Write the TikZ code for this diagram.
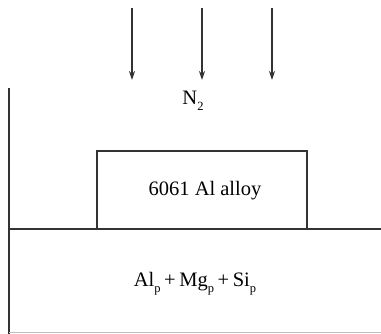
\documentclass[tikz,border=0pt]{standalone}
\usepackage{fontspec}
\setmainfont{Liberation Serif}
\usetikzlibrary{arrows.meta}
\newcommand{\lowsub}[1]{\raisebox{-0.3em}{\fontsize{12.5}{15}\selectfont #1}}
\newcommand{\plusop}{\hspace{3.6pt}+\hspace{3.6pt}}
\tikzset{
  ln/.style={draw=black!80, line width=1.5pt},
  flow/.style={line width=1.2pt, draw=black!80, -{Stealth[length=9pt,width=6pt]}},
  lbl/.style={font=\fontsize{20.5}{24}\selectfont, inner sep=0pt},
}
\begin{document}
\begin{tikzpicture}[x=1pt,y=-1pt]
\useasboundingbox (0,0) rectangle (381,334);
% arrows
\foreach \i/\x in {a/132,b/202,c/272}{
  \coordinate (\i1) at (\x,8);
  \coordinate (\i2) at (\x,80);
  \draw[flow] (\i1) -- (\i2);
}
\node[lbl] (n2) at (193,101) {N\lowsub{2}};
% wall and base
\coordinate (wt) at (9,88);
\coordinate (wb) at (9,334);
\coordinate (bl) at (9,229);
\coordinate (br) at (381,229);
\draw[ln] (wt) -- (wb);
\draw[ln] (bl) -- (br);
\coordinate (fl) at (9,333);
\coordinate (fr) at (381,333);
\draw[line width=1pt, draw=black!25] (fl) -- (fr);
% alloy block
\node[ln, line width=1.7pt, minimum width=210pt, minimum height=78.5pt, inner sep=0pt] (alloy) at (201.7,190) {};
\node[lbl] (t1) at (205,191) {6061 Al alloy};
\node[lbl] (t2) at (195,284) {Al\lowsub{p}\plusop Mg\lowsub{p}\plusop Si\lowsub{p}};
\end{tikzpicture}
\end{document}
